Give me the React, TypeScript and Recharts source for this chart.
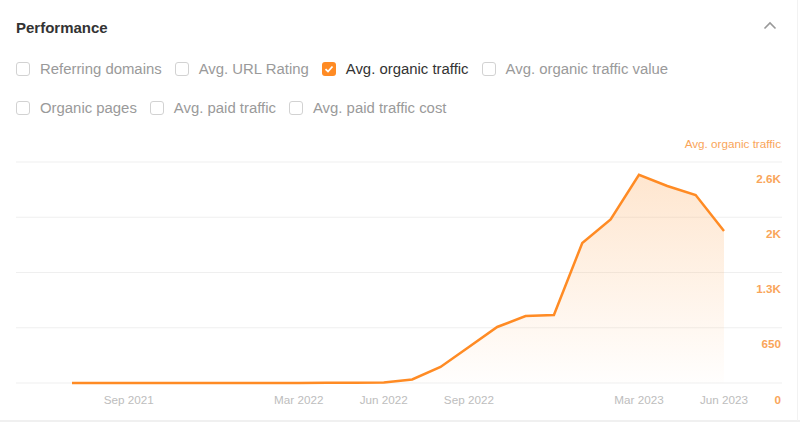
import React from "react";
import { AreaChart, Area, XAxis, YAxis, CartesianGrid } from "recharts";

// 월별 평균 오가닉 트래픽 (Jul 2021 ~ Jun 2023)
const months = [
  "Jul 2021", "Aug 2021", "Sep 2021", "Oct 2021", "Nov 2021", "Dec 2021",
  "Jan 2022", "Feb 2022", "Mar 2022", "Apr 2022", "May 2022", "Jun 2022",
  "Jul 2022", "Aug 2022", "Sep 2022", "Oct 2022", "Nov 2022", "Dec 2022",
  "Jan 2023", "Feb 2023", "Mar 2023", "Apr 2023", "May 2023", "Jun 2023",
];
const traffic = [
  0, 0, 0, 0, 0, 0,
  0, 0, 0, 2, 3, 6,
  42, 188, 424, 659, 788, 800,
  1647, 1925, 2450, 2318, 2212, 1788,
];
const shownMonths = ["Sep 2021", "Mar 2022", "Jun 2022", "Sep 2022", "Mar 2023", "Jun 2023"];
const yTicks = [0, 650, 1300, 1950, 2600];
const yLabels = ["0", "650", "1.3K", "2K", "2.6K"];

const metricsRow1 = [
  { name: "Referring domains", on: false },
  { name: "Avg. URL Rating", on: false },
  { name: "Avg. organic traffic", on: true },
  { name: "Avg. organic traffic value", on: false },
];
const metricsRow2 = [
  { name: "Organic pages", on: false },
  { name: "Avg. paid traffic", on: false },
  { name: "Avg. paid traffic cost", on: false },
];

const ORANGE = "#ff8b24";
const FONT = "Arial, 'Liberation Sans', sans-serif";

const data = months.map((m, i) => ({ month: m, traffic: traffic[i] }));

function Check({ name, on }: { name: string; on: boolean }) {
  return (
    <div style={{ display: "flex", alignItems: "center", marginRight: 13 }}>
      <div
        style={{
          width: 14,
          height: 14,
          boxSizing: "border-box",
          borderRadius: 3,
          border: on ? "none" : "1px solid #d2d2d2",
          background: on ? ORANGE : "#fff",
          marginRight: 10,
          display: "flex",
          alignItems: "center",
          justifyContent: "center",
        }}
      >
        {on && (
          <svg width="10" height="10" viewBox="0 0 10 10">
            <polyline points="1.5,5.2 4,7.5 8.5,2.5" fill="none" stroke="#fff" strokeWidth="1.8" />
          </svg>
        )}
      </div>
      <span style={{ fontSize: 14.9, color: on ? "#333" : "#9a9a9a" }}>{name}</span>
    </div>
  );
}

function XTick(props: any) {
  const { x, payload } = props;
  if (!shownMonths.includes(payload.value)) return null;
  return (
    <text x={x} y={404} textAnchor="middle" fontSize={11.7} fill="#bdbdbd" fontFamily={FONT}>
      {payload.value}
    </text>
  );
}

function YTick(props: any) {
  const { y, payload } = props;
  const idx = yTicks.indexOf(payload.value);
  return (
    <text x={781} y={y + 20.5} textAnchor="end" fontSize={11.7} fontWeight={700} fill="#f9a55a" fontFamily={FONT}>
      {yLabels[idx]}
    </text>
  );
}

export default function App() {
  return (
    <div
      style={{
        position: "fixed",
        left: 0,
        top: 0,
        width: 800,
        height: 429,
        background: "#fff",
        fontFamily: FONT,
        overflow: "hidden",
      }}
    >
      <div style={{ position: "absolute", left: 16, top: 19, fontSize: 15, fontWeight: 700, color: "#333" }}>
        Performance
      </div>
      <svg style={{ position: "absolute", left: 763, top: 21 }} width="14" height="10" viewBox="0 0 14 10">
        <polyline points="1.5,7.5 7,2 12.5,7.5" fill="none" stroke="#999" strokeWidth="1.6" />
      </svg>
      <div style={{ position: "absolute", left: 16, top: 61, display: "flex" }}>
        {metricsRow1.map((m) => (
          <Check key={m.name} {...m} />
        ))}
      </div>
      <div style={{ position: "absolute", left: 16, top: 100, display: "flex" }}>
        {metricsRow2.map((m) => (
          <Check key={m.name} {...m} />
        ))}
      </div>
      <div
        style={{
          position: "absolute",
          right: 19,
          top: 137,
          fontSize: 11.7,
          color: "#f9a55a",
        }}
      >
        Avg. organic traffic
      </div>
      <div style={{ position: "absolute", left: 0, top: 0 }}>
        <AreaChart
          width={800}
          height={429}
          data={data}
          margin={{ top: 162, right: 0, bottom: 16, left: 16 }}
        >
          <defs>
            <linearGradient id="trafficFill" x1="0" y1="0" x2="0" y2="1">
              <stop offset="0%" stopColor="#fdb36e" stopOpacity={0.55} />
              <stop offset="100%" stopColor="#fdb36e" stopOpacity={0.02} />
            </linearGradient>
          </defs>
          <CartesianGrid vertical={false} stroke="#efefef" />
          <XAxis
            dataKey="month"
            height={30}
            interval={0}
            axisLine={false}
            tickLine={false}
            tick={<XTick />}
            padding={{ left: 56, right: 58 }}
          />
          <YAxis
            orientation="right"
            width={18}
            domain={[0, 2600]}
            ticks={yTicks}
            interval={0}
            axisLine={false}
            tickLine={false}
            tick={<YTick />}
          />
          <Area
            type="linear"
            dataKey="traffic"
            stroke={ORANGE}
            strokeWidth={2.5}
            fill="url(#trafficFill)"
            dot={false}
            activeDot={false}
            isAnimationActive={false}
          />
        </AreaChart>
      </div>
      <div style={{ position: "absolute", left: 0, top: 420, width: 800, height: 2, background: "#f0f0f0" }} />
      <div style={{ position: "absolute", left: 797, top: 0, width: 1, height: 421, background: "#f2f2f2" }} />
    </div>
  );
}
